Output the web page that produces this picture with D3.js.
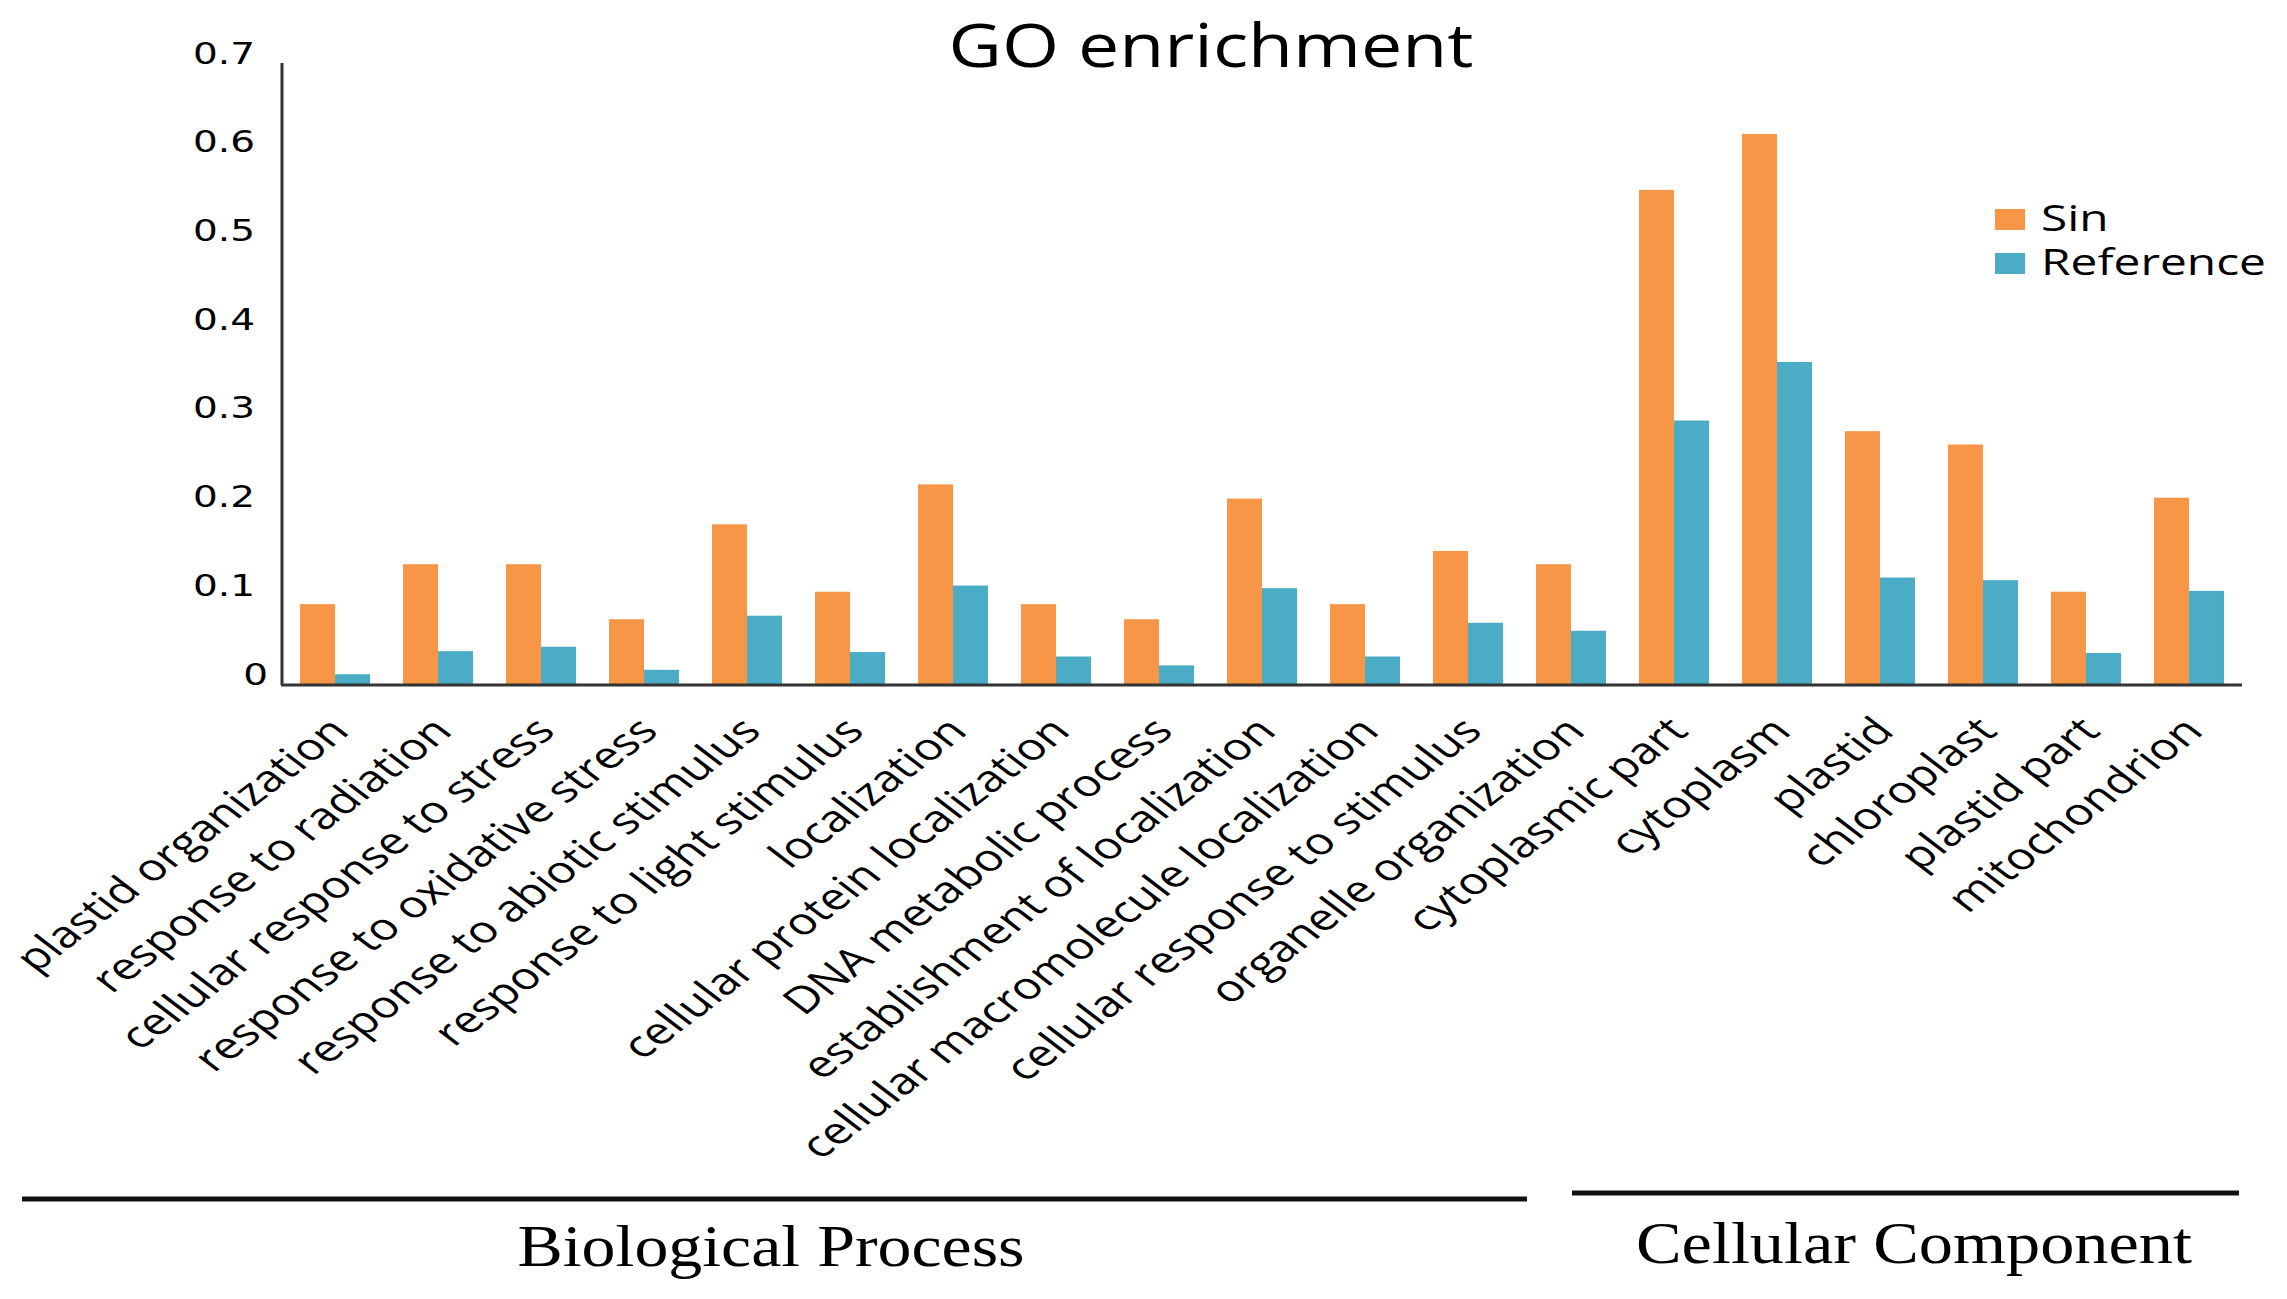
<!DOCTYPE html>
<html>
<head>
<meta charset="utf-8">
<style>
  body { margin: 0; background: #fff; }
  text { fill: #000; }
</style>
</head>
<body>
<svg width="2287" height="1299"></svg>
<script src="https://d3js.org/d3.v7.min.js"></script>
<script>
    // GO term categories, in plot order
    const categories = [
        "plastid organization", "response to radiation", "cellular response to stress",
        "response to oxidative stress", "response to abiotic stimulus", "response to light stimulus",
        "localization", "cellular protein localization", "DNA metabolic process",
        "establishment of localization", "cellular macromolecule localization",
        "cellular response to stimulus", "organelle organization", "cytoplasmic part",
        "cytoplasm", "plastid", "chloroplast", "plastid part", "mitochondrion"
    ];
    const sinValues = [0.09, 0.135, 0.135, 0.073, 0.18, 0.104, 0.225, 0.09, 0.073, 0.209,
        0.09, 0.15, 0.135, 0.557, 0.62, 0.285, 0.27, 0.104, 0.21];
    const refValues = [0.011, 0.037, 0.042, 0.016, 0.077, 0.036, 0.111, 0.031, 0.021, 0.108,
        0.031, 0.069, 0.06, 0.297, 0.363, 0.12, 0.117, 0.035, 0.105];
    const seriesNames = ["Sin", "Reference"];
    const yTicks = [0, 0.1, 0.2, 0.3, 0.4, 0.5, 0.6, 0.7];
    const groupNames = ["Biological Process", "Cellular Component"];

    const colors = ["#F79646", "#4BACC6"];
    const stretch = 1.31;   // the whole picture looks widened, text included

    const svg = d3.select("svg");

    const x = d3.scaleBand()
        .domain(categories)
        .range([282, 2242])
        .paddingInner(0.32)
        .paddingOuter(0.175);

    const xs = d3.scaleBand()
        .domain(seriesNames)
        .range([0, x.bandwidth()]);

    const y = d3.scaleLinear()
        .domain([0, 0.7])
        .range([684, 63]);

    const color = d3.scaleOrdinal(seriesNames, colors);

    const rows = categories.map(function(c, i) {
        return { cat: c, values: [sinValues[i], refValues[i]] };
    });

    // bars
    const grp = svg.selectAll(".grp")
        .data(rows)
        .enter().append("g")
        .attr("class", "grp")
        .attr("transform", function(d) { return "translate(" + x(d.cat) + ",0)"; });

    grp.selectAll("rect")
        .data(function(d) { return d.values.map(function(v, j) { return { s: seriesNames[j], v: v }; }); })
        .enter().append("rect")
        .attr("x", function(d) { return xs(d.s); })
        .attr("y", function(d) { return y(d.v); })
        .attr("width", xs.bandwidth())
        .attr("height", function(d) { return y(0) - y(d.v); })
        .attr("fill", function(d) { return color(d.s); });

    // axes lines
    svg.append("line")
        .attr("x1", 282).attr("x2", 282)
        .attr("y1", y(0.7)).attr("y2", y(0) + 1)
        .attr("stroke", "#333").attr("stroke-width", 3);
    svg.append("line")
        .attr("x1", 281).attr("x2", 2242)
        .attr("y1", y(0) + 1).attr("y2", y(0) + 1)
        .attr("stroke", "#333").attr("stroke-width", 3);

    // y tick labels
    svg.selectAll(".ytick")
        .data(yTicks)
        .enter().append("text")
        .attr("class", "ytick")
        .attr("transform", function(d) {
            return "translate(" + (d === 0 ? 268 : 255) + "," + (y(d) - 8) + ") scale(1.3,1)";
        })
        .attr("text-anchor", "end")
        .attr("dominant-baseline", "middle")
        .style("font-family", "DejaVu Sans")
        .style("font-size", "30px")
        .text(function(d) { return d === 0 ? "0" : d3.format(".1f")(d); });

    // x category labels
    svg.selectAll(".xlab")
        .data(categories)
        .enter().append("text")
        .attr("class", "xlab")
        .attr("transform", function(d) {
            const cx = x(d) + x.bandwidth() / 2;
            return "translate(" + (cx + 16) + ",733) scale(" + stretch + ",1) rotate(-45)";
        })
        .attr("text-anchor", "end")
        .style("font-family", "Open Sans")
        .style("font-size", "37px")
        .text(function(d) { return d; });

    // title
    svg.append("text")
        .attr("x", 1211).attr("y", 67)
        .attr("text-anchor", "middle")
        .attr("textLength", 525)
        .attr("lengthAdjust", "spacingAndGlyphs")
        .style("font-family", "Open Sans")
        .style("font-size", "60px")
        .text("GO enrichment");

    // legend
    const leg = svg.selectAll(".leg")
        .data(seriesNames)
        .enter().append("g")
        .attr("class", "leg")
        .attr("transform", function(d, i) { return "translate(1995," + (209 + i * 44) + ")"; });
    leg.append("rect")
        .attr("width", 30).attr("height", 21)
        .attr("fill", function(d) { return color(d); });
    leg.append("text")
        .attr("transform", "translate(46,22) scale(1.33,1)")
        .style("font-family", "Open Sans")
        .style("font-size", "36px")
        .text(function(d) { return d; });

    // group brackets under the labels
    const groupLines = [[22, 1527, 1199], [1572, 2239, 1193]];
    const groupText = [[771, 1266, 507], [1914, 1263, 556]];
    groupNames.forEach(function(name, i) {
        svg.append("line")
            .attr("x1", groupLines[i][0]).attr("x2", groupLines[i][1])
            .attr("y1", groupLines[i][2]).attr("y2", groupLines[i][2])
            .attr("stroke", "#111").attr("stroke-width", 5);
        svg.append("text")
            .attr("x", groupText[i][0]).attr("y", groupText[i][1])
            .attr("text-anchor", "middle")
            .attr("textLength", groupText[i][2])
            .attr("lengthAdjust", "spacingAndGlyphs")
            .style("font-family", "Liberation Serif")
            .style("font-size", "60px")
            .text(name);
    });
</script>
</body>
</html>
